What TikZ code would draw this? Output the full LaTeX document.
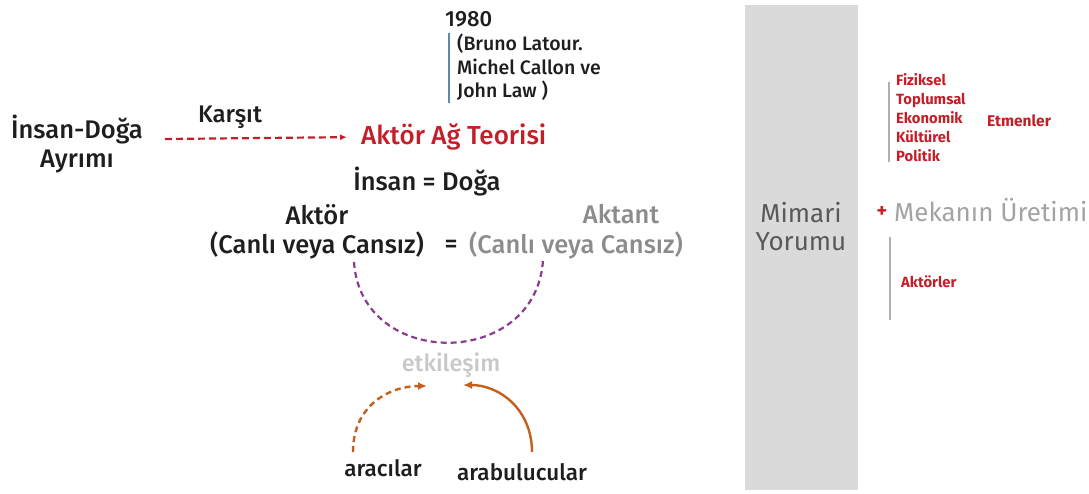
\documentclass[tikz,border=0pt]{standalone}
\usepackage{fontspec}
\setmainfont{Fira Sans}[UprightFont={* Medium}, BoldFont={* Bold}]
\newfontfamily\regf{Fira Sans}
\usetikzlibrary{arrows.meta}
\definecolor{antred}{RGB}{196,30,40}
\definecolor{antpurple}{RGB}{140,60,140}
\definecolor{antorange}{RGB}{196,96,30}
\definecolor{antblue}{RGB}{90,140,170}
\definecolor{antgray}{RGB}{140,140,140}
\definecolor{antlight}{RGB}{200,200,200}
\definecolor{antdark}{RGB}{30,30,30}
\definecolor{antbox}{RGB}{218,218,218}
\tikzset{
  txt/.style={inner sep=0pt, text=antdark},
  big/.style={txt, font=\fontsize{25.5}{29}\selectfont},
  gbig/.style={txt, font=\fontsize{25.5}{30}\selectfont, text=antgray},
  mid/.style={txt, font=\fontsize{19.5}{23.5}\selectfont, align=left},
  small/.style={txt, font=\bfseries\fontsize{14.8}{19}\selectfont, text=antred, align=left},
  vline/.style={line width=1.2pt, draw=antgray!70},
}
\begin{document}
\begin{tikzpicture}[x=1pt,y=-1pt]
\useasboundingbox (0,0) rectangle (1089,493);
% left part
\node[txt, font=\fontsize{22}{24}\selectfont, anchor=west] (y1980) at (445,19) {1980};
\node[mid, anchor=north west] (names) at (457,34) {(Bruno Latour.\\Michel Callon ve\\John Law )};
\draw[line width=1.2pt, antblue] (449,33) -- (449,103);
\node[big, align=center] (ayrim) at (77,144) {İnsan-Doğa\\Ayrımı};
\node[big, font=\fontsize{24}{28}\selectfont] (karsit) at (230,117) {Karşıt};
\node[txt, font=\fontsize{26}{28}\selectfont, text=antred, anchor=west] (aat) at (361,137) {Aktör Ağ Teorisi};
\coordinate (arrs) at (165,139);
\draw[antred, line width=2.2pt, dash pattern=on 7pt off 4pt, shorten >=14pt, -{Latex[length=7pt,width=6pt]}] (arrs) -- (aat.west);
\node[big] (esit) at (427,182) {İnsan = Doğa};
\node[big, align=center] (aktor) at (317,232) {Aktör\\(Canlı veya Cansız)};
\node[big] (eq) at (451,246) {=};
\node[gbig, align=center] (aktant) at (576,232) {\hspace*{90pt}Aktant\\(Canlı veya Cansız)};
\coordinate (p1) at (354,262);
\coordinate (p2) at (543,260);
\draw[antpurple, line width=2.2pt, dash pattern=on 6pt off 4pt] (p1) .. controls (361,370) and (536,370) .. (p2);
\node[txt, font=\fontsize{23.5}{26}\selectfont, text=antlight] (etk) at (451,365) {etkileşim};
\node[big, font=\fontsize{22.5}{26}\selectfont] (araci) at (383,468) {aracılar};
\node[big, font=\fontsize{22.5}{26}\selectfont] (arab) at (522,472) {arabulucular};
\coordinate (o1) at (353,452);
\coordinate (o1e) at (427,386);
\coordinate (o2) at (532,452);
\coordinate (o2e) at (463,385);
\draw[antorange, line width=2.4pt, dash pattern=on 6pt off 4pt, -{Latex[length=9pt,width=8pt]}] (o1) .. controls (353,405) and (390,386) .. (o1e);
\draw[antorange, line width=2.4pt, -{Latex[length=9pt,width=8pt]}] (o2) .. controls (532,410) and (500,385) .. (o2e);
% right part
\node[draw=none, fill=antbox, minimum width=113pt, minimum height=485pt, anchor=north west, inner sep=0pt] (box) at (745,5) {};
\node[txt, font=\regf\fontsize{26}{28}\selectfont, align=center, text=black!65] (mimari) at (801,227) {Mimari\\Yorumu};
\node[txt, font=\bfseries\fontsize{20}{20}\selectfont, text=antred] (plus) at (882,212) {+};
\node[txt, font=\regf\fontsize{26}{30}\selectfont, text=antgray!80, anchor=west] (mek) at (894,210) {Mekanın Üretimi};
\node[small, anchor=north west] (etmen) at (896,73) {Fiziksel\\Toplumsal\\Ekonomik\\Kültürel\\Politik};
\node[small, font=\bfseries\fontsize{15.5}{19}\selectfont, anchor=west] (etm) at (987,121) {Etmenler};
\draw[vline] (889,82) -- (889,162);
\node[small, anchor=west] (akt) at (901,282) {Aktörler};
\draw[vline] (890,237) -- (890,320);
\end{tikzpicture}
\end{document}
